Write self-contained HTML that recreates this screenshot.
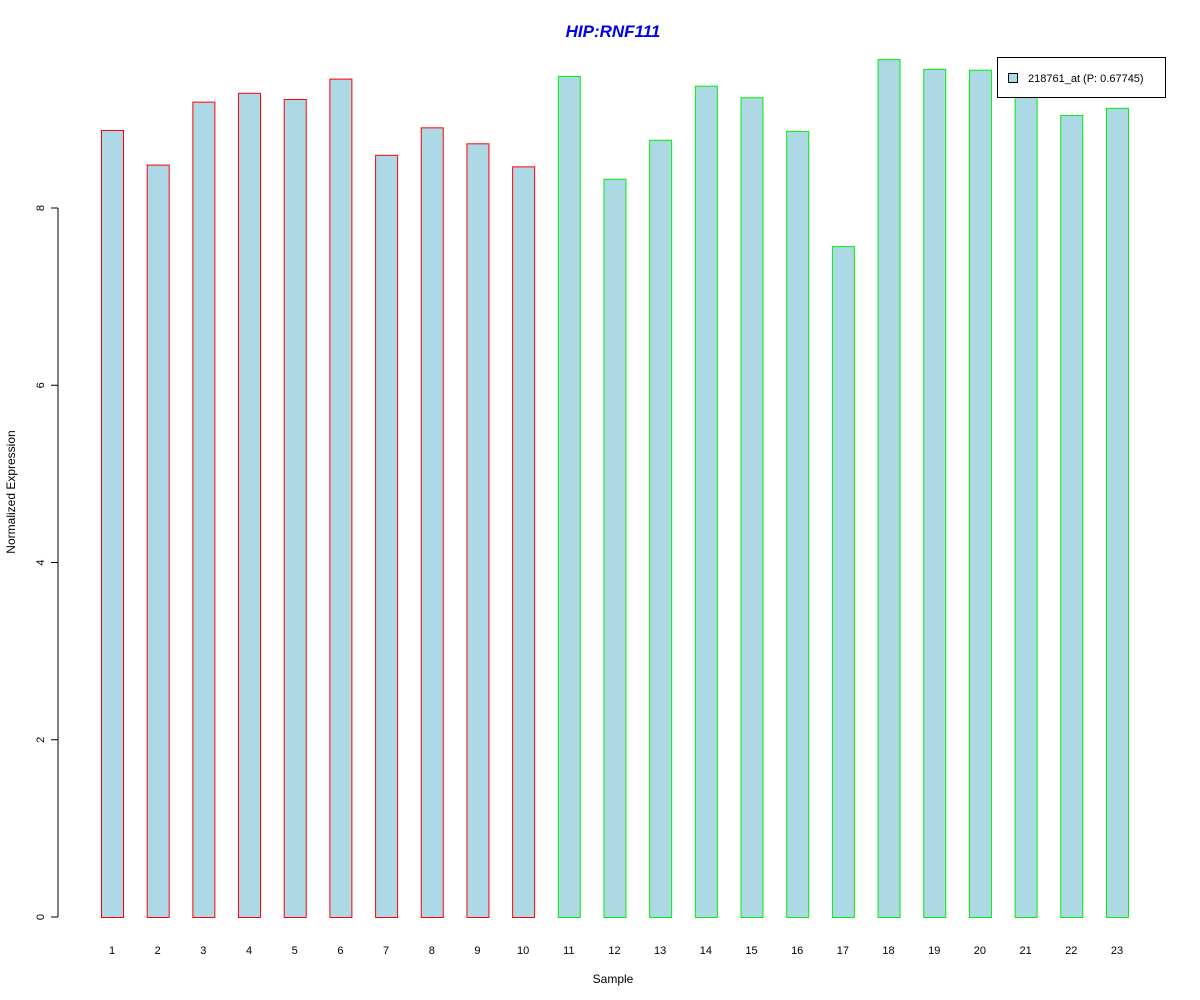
<!DOCTYPE html>
<html><head><meta charset="utf-8"><style>body{margin:0;background:#fff}svg{display:block;font-family:"Liberation Sans",Arial,sans-serif}</style></head>
<body>
<svg id="chart" width="1200" height="1000" xmlns="http://www.w3.org/2000/svg">
<text x="613" y="37" text-anchor="middle" font-size="17" font-weight="bold" font-style="italic" fill="#0000ee">HIP:RNF111</text>
<text x="613" y="983" text-anchor="middle" font-size="12">Sample</text>
<text transform="translate(15,492) rotate(-90)" text-anchor="middle" font-size="12">Normalized Expression</text>
<line x1="58" y1="917" x2="58" y2="208" stroke="#000"/>
<g id="yticks"></g>
<g id="bars"></g>
<g id="xlabels"></g>
<g>
<rect x="997.5" y="57.5" width="168" height="40" fill="#fff" stroke="#000"/>
<rect x="1008.5" y="73.5" width="9" height="9" fill="#add8e6" stroke="#000"/>
<text x="1028" y="82" font-size="11">218761_at (P: 0.67745)</text>
</g>
</svg>
<script>
const categories=["1","2","3","4","5","6","7","8","9","10","11","12","13","14","15","16","17","18","19","20","21","22","23"];
const values=[8.88,8.49,9.20,9.30,9.23,9.46,8.60,8.91,8.73,8.47,9.49,8.33,8.77,9.38,9.25,8.87,7.57,9.68,9.57,9.56,9.28,9.05,9.13];
const groups=["a","a","a","a","a","a","a","a","a","a","b","b","b","b","b","b","b","b","b","b","b","b","b"];
const yTicks=[0,2,4,6,8];
const NS="http://www.w3.org/2000/svg";
const y=v=>917-v*88.625;
const x=i=>112+i*45.68;
const bw=22;
const bars=document.getElementById('bars'),xl=document.getElementById('xlabels'),yt=document.getElementById('yticks');
values.forEach((v,i)=>{
 const r=document.createElementNS(NS,'rect');
 
 
 r.setAttribute('x',x(i)-bw/2+0.5);r.setAttribute('y',y(v)+0.5);
 r.setAttribute('width',bw);r.setAttribute('height',y(0)-y(v));
 r.setAttribute('fill','#add8e6');r.setAttribute('stroke',groups[i]==='a'?'#ff0000':'#00ee00');
 bars.appendChild(r);
 const t=document.createElementNS(NS,'text');
 
 
 t.setAttribute('x',x(i));t.setAttribute('y',954);t.setAttribute('font-size','11');t.setAttribute('text-anchor','middle');
 t.textContent=categories[i];xl.appendChild(t);
});
yTicks.forEach(v=>{
 const l=document.createElementNS(NS,'line');
 
 
 l.setAttribute('x1',51);l.setAttribute('x2',58);l.setAttribute('y1',y(v));l.setAttribute('y2',y(v));l.setAttribute('stroke','#000');
 yt.appendChild(l);
 const t=document.createElementNS(NS,'text');
 
 
 t.setAttribute('transform','translate(44,'+y(v)+') rotate(-90)');t.setAttribute('font-size','11');t.setAttribute('text-anchor','middle');
 t.textContent=v;yt.appendChild(t);
});
</script>
</body></html>
